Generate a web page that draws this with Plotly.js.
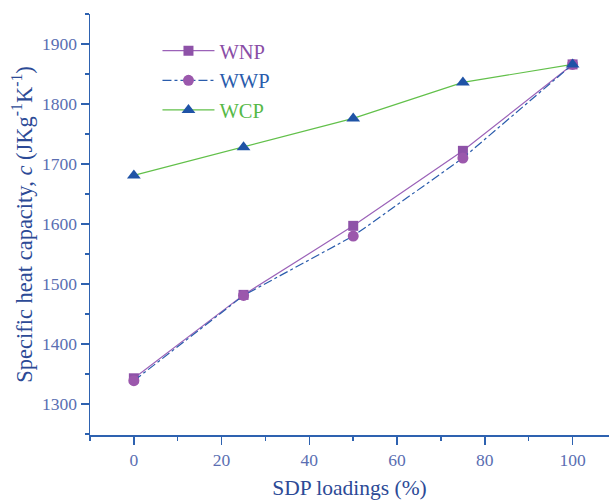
<!DOCTYPE html>
<html><head><meta charset="utf-8">
<script src="https://cdn.plot.ly/plotly-3.0.1.min.js"></script>
<style>body{margin:0;padding:0;background:#fff}#chart{width:609px;height:500px}</style>
</head><body><div id="chart"></div>
<script>
const loadings = [0, 25, 50, 75, 100];
const wnp = [1343, 1482, 1597, 1722, 1866];
const wwp = [1339, 1481, 1580, 1710, 1866];
const wcp = [1681, 1728, 1776, 1836, 1866];
const xTickVals = [0, 20, 40, 60, 80, 100];
const yTickVals = [1300, 1400, 1500, 1600, 1700, 1800, 1900];

const axisBlue = '#2e62b0';
const labelBlue = '#5a6eb2';
const font = 'Liberation Serif, Times New Roman, serif';

const traces = [
  {x: loadings, y: wnp, name: '<span style="color:#8a4ea6">WNP</span>', mode: 'lines+markers',
   line: {color: '#9b62b8', width: 1.2}, marker: {symbol: 'square', size: 10, color: '#8e52a8'}},
  {x: loadings, y: wwp, name: '<span style="color:#2a5cac">WWP</span>', mode: 'lines+markers',
   line: {color: '#2a5cac', width: 1.2, dash: 'dashdot'}, marker: {symbol: 'circle', size: 11, color: '#9b58ac'}},
  {x: loadings, y: wcp, name: '<span style="color:#56b947">WCP</span>', mode: 'lines+markers',
   line: {color: '#62c04a', width: 1.2}, marker: {symbol: 'triangle-up', size: 12, color: '#1f53a6'}}
];

const layout = {
  width: 609, height: 500,
  margin: {l: 90, r: 0, t: 14, b: 65},
  paper_bgcolor: '#fff', plot_bgcolor: '#fff',
  font: {family: font, color: labelBlue, size: 17.5},
  showlegend: true,
  legend: {x: 0.13, y: 0.96, xanchor: 'left', yanchor: 'top', bgcolor: 'rgba(0,0,0,0)',
           font: {family: font, size: 20.5}, itemwidth: 52, tracegroupgap: 0},
  xaxis: {range: [-10, 108.3], showgrid: false, zeroline: false, showline: true, linecolor: axisBlue, linewidth: 1.5,
          ticks: 'outside', ticklen: 8, tickwidth: 1.5, tickcolor: axisBlue, tickvals: xTickVals,
          minor: {dtick: 10, ticks: 'outside', ticklen: 4, tickcolor: axisBlue, tickwidth: 1.5},
          tickfont: {family: font, size: 17.5, color: labelBlue},
          title: {text: 'SDP loadings (%)', font: {family: font, size: 21.5, color: '#2c4a96'}, standoff: 12}},
  yaxis: {range: [1248.5, 1950], showgrid: false, zeroline: false, showline: true, linecolor: axisBlue, linewidth: 1.5,
          ticks: 'outside', ticklen: 8, tickwidth: 1.5, tickcolor: axisBlue, tickvals: yTickVals,
          minor: {dtick: 50, ticks: 'outside', ticklen: 4, tickcolor: axisBlue, tickwidth: 1.5},
          tickfont: {family: font, size: 17.5, color: labelBlue},
          title: {text: 'Specific heat capacity, <i>c</i> (JKg<sup>-1</sup>K<sup>-1</sup>)', font: {family: font, size: 22.5, color: '#2c4a96'}, standoff: 3}}
};
Plotly.newPlot('chart', traces, layout, {displayModeBar: false, staticPlot: true});
</script></body></html>
